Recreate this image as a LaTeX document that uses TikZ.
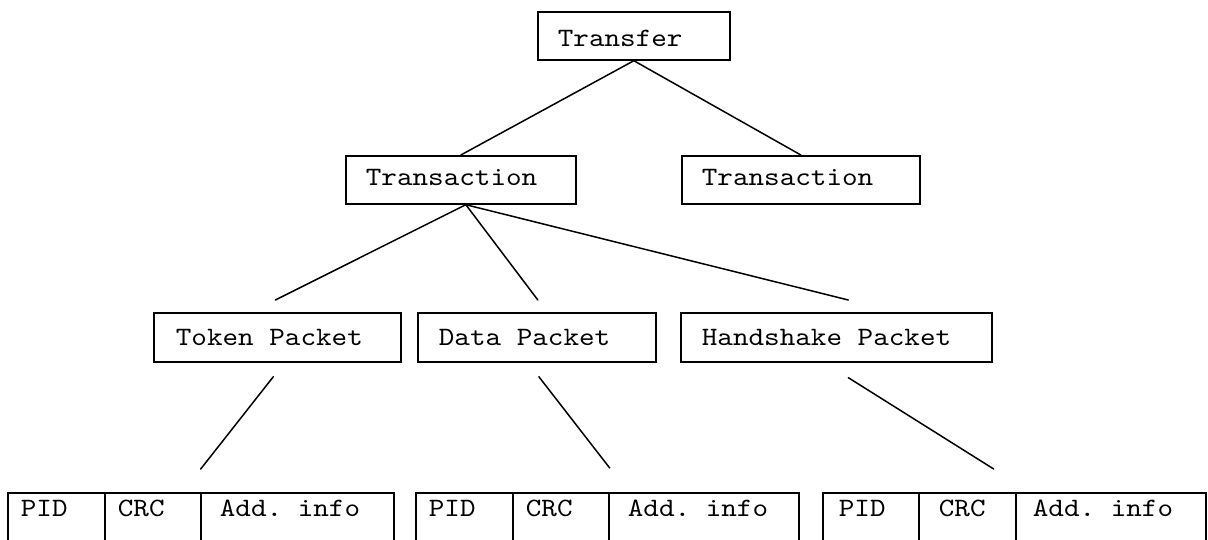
\documentclass[tikz,border=0pt]{standalone}
\usepackage{fontspec}
\newfontfamily\boxfont{lmmono10-regular.otf}[FakeStretch=1.12]
\usetikzlibrary{calc}
\tikzset{
  box/.style={draw, line width=1.7pt, inner ysep=0pt, align=flush left, anchor=north west,
    font=\boxfont\fontsize{26.5}{30}\selectfont\frenchspacing},
  link/.style={line width=1.5pt, line cap=round}
}
\begin{document}
\begin{tikzpicture}[x=1pt, y=-1pt]
  \useasboundingbox (0,0) rectangle (1208,539);
  \fill[white] (0,0) rectangle (1208,539);
  \clip (0,0) rectangle (1208,539);

  % tree levels
  \node[box, inner xsep=20pt, text width=152pt, text height=35pt, text depth=13pt] (xfer) at (537,11) {Transfer};
  \node[box, inner xsep=20pt, text width=190pt, text height=30pt, text depth=18pt] (tal) at (345,155) {Transaction};
  \node[box, inner xsep=20pt, text width=198pt, text height=30pt, text depth=18pt] (tar) at (681,155) {Transaction};
  \node[box, inner xsep=22pt, text width=203pt, text height=33pt, text depth=16pt] (tp) at (153,312) {Token Packet};
  \node[box, inner xsep=21pt, text width=196pt, text height=33pt, text depth=16pt] (dp) at (417,312) {Data Packet};
  \node[box, inner xsep=21pt, text width=269pt, text height=33pt, text depth=16pt] (hp) at (680,312) {Handshake Packet};

  % packet field rows
  \tikzset{cell/.style={box, text height=24pt, text depth=34pt}}
  \node[cell, inner xsep=13pt, text width=71pt]  (pid1) at (7,492)   {PID};
  \node[cell, inner xsep=13pt, text width=70pt]  (crc1) at (104,492) {CRC};
  \node[cell, inner xsep=19pt, text width=155pt] (add1) at (200,492) {Add. info};
  \node[cell, inner xsep=13pt, text width=71pt]  (pid2) at (415,492) {PID};
  \node[cell, inner xsep=13pt, text width=70pt]  (crc2) at (512,492) {CRC};
  \node[cell, inner xsep=19pt, text width=152pt] (add2) at (608,492) {Add. info};
  \node[cell, inner xsep=16pt, text width=64pt]  (pid3) at (822,492) {PID};
  \node[cell, inner xsep=20pt, text width=57pt]  (crc3) at (918,492) {CRC};
  \node[cell, inner xsep=17pt, text width=156pt] (add3) at (1015,492) {Add. info};

  % connector ends
  \coordinate (tal-out) at ($(tal.south)+(5,0)$);
  \coordinate (tp-in)  at ($(tp.north)+(-2,-12)$);
  \coordinate (dp-in)  at ($(dp.north)+(1,-12)$);
  \coordinate (hp-in)  at ($(hp.north)+(12,-12)$);
  \coordinate (tp-out) at ($(tp.south)+(-4,14)$);
  \coordinate (dp-out) at ($(dp.south)+(2,14)$);
  \coordinate (hp-out) at ($(hp.south)+(12,15)$);
  \coordinate (row1-in) at ($(crc1.north east)+(-1,-23)$);
  \coordinate (row2-in) at ($(crc2.north east)+(0,-24)$);
  \coordinate (row3-in) at ($(crc3.north east)+(-23,-23)$);

  % connectors
  \draw[link] (tal.north) -- (xfer.south) -- (tar.north);
  \draw[link] (tal-out) -- (tp-in);
  \draw[link] (tal-out) -- (dp-in);
  \draw[link] (tal-out) -- (hp-in);
  \draw[link] (tp-out) -- (row1-in);
  \draw[link] (dp-out) -- (row2-in);
  \draw[link] (hp-out) -- (row3-in);
\end{tikzpicture}
\end{document}
